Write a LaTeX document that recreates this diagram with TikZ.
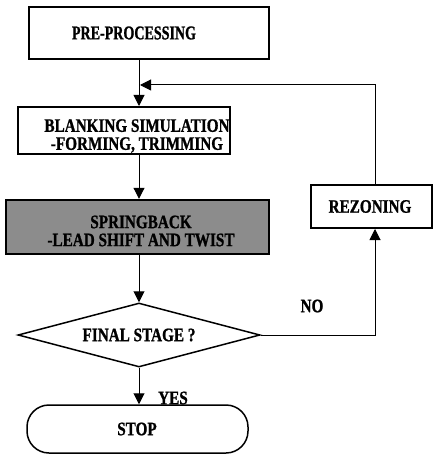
\documentclass[tikz,border=0pt]{standalone}
\usepackage{fontspec}
\setmainfont{Liberation Serif}
\newfontfamily\labf[FakeStretch=0.8,FakeBold=1]{Liberation Serif}
\newfontfamily\labc[FakeStretch=0.72,FakeBold=1]{Liberation Serif}
\usetikzlibrary{arrows.meta,shapes.geometric}
\begin{document}
\begin{tikzpicture}[x=1pt,y=-1pt,
  box/.style={draw=black, line width=2pt, rectangle, inner sep=0pt},
  txt/.style={font=\labf\bfseries\fontsize{19}{18}\selectfont, align=center, inner sep=0pt},
  conn/.style={line width=1pt, -{Triangle[length=11pt,width=11pt]}}]
\useasboundingbox (0,0) rectangle (433,457);
\coordinate (col) at (139,0);
\coordinate (fb) at (375,0);
\coordinate (join) at (140,85);
% boxes
\node[box, line width=2.6pt, minimum width=240pt, minimum height=52pt] (pp) at (149,33) {};
\node[txt, font=\labc\bfseries\fontsize{19.5}{20}\selectfont] (ppt) at (134,33) {PRE-PROCESSING};
\node[box, minimum width=212pt, minimum height=47pt] (bl) at (124,130.5) {};
\node[txt] (blt) at (137,136) {BLANKING SIMULATION\\-FORMING, TRIMMING};
\node[box, line width=2.4pt, fill=black!45, minimum width=263pt, minimum height=54pt] (sb) at (137.5,227) {};
\node[txt] (sbt) at (141,231) {SPRINGBACK\\-LEAD SHIFT AND TWIST};
\node[diamond, draw=black, line width=1.5pt, inner sep=0pt, minimum width=242pt, minimum height=64pt] (dm) at (139,335) {};
\node[txt] (dmt) at (139,335) {FINAL STAGE ?};
\node[draw=black, line width=1.5pt, rounded corners=22pt, minimum width=221pt, minimum height=48pt, inner sep=0pt] (stop) at (137.5,429) {};
\node[txt] (stopt) at (137,429) {STOP};
\node[box, minimum width=121pt, minimum height=43pt] (rz) at (371,206.5) {};
\node[txt] (rzt) at (370,206.5) {REZONING};
% labels
\node[txt] (no) at (312,306) {NO};
\node[txt] (yes) at (173,398) {YES};
% connectors
\draw[conn] (pp.south -| col) -- (bl.north -| col);
\draw[conn] (bl.south -| col) -- (sb.north -| col);
\draw[conn] (sb.south -| col) -- (dm.north);
\draw[conn] (dm.south) -- (stop.north -| col);
\draw[conn] (dm.east) -| (rz.south -| fb);
\draw[conn] (rz.north -| fb) |- (join);
\end{tikzpicture}
\end{document}
